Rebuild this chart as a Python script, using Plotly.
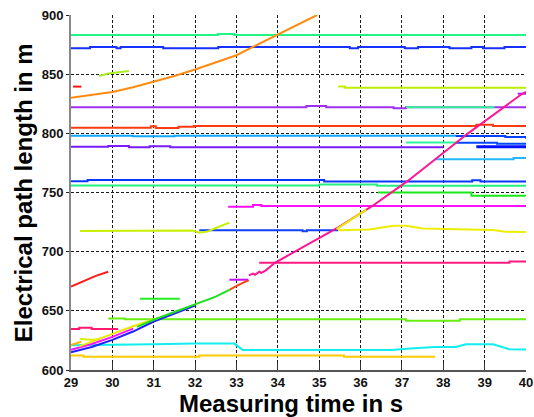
import plotly.graph_objects as go

# ---------------- data ----------------
x_ticks = [29, 30, 31, 32, 33, 34, 35, 36, 37, 38, 39, 40]
y_ticks = [600, 650, 700, 750, 800, 850, 900]

# flat tracks (step shaped)
g883_x = [29, 32.55, 32.95, 40]
g883_y = [883, 884, 883, 883]
b872_x = [29, 29.46, 30.1, 30.2, 31.23, 32.56, 35.74, 35.94, 36.42, 37.07, 37.39, 38.15, 38.68, 38.96, 39.48, 40]
b872_y = [871.8, 873, 871.8, 873, 871.8, 873, 871.8, 873, 873, 871.8, 873, 871.8, 873, 871.8, 873, 873]
yg839_x = [35.46, 35.62, 40]
yg839_y = [839.5, 838.5, 838.5]
p822_x = [29, 34.69, 35.17, 36.8, 37.1, 40]
p822_y = [822, 823, 822, 821.2, 822, 822]
sg822_x = [37.1, 39.24]
sg822_y = [822, 822]
r805_x = [29, 30.93, 31.05, 31.6, 31.97, 38.8, 39.2, 40]
r805_y = [804.8, 806, 804.6, 805.5, 806.2, 807.3, 806.2, 806.2]
lb798_x = [29, 30.5, 31.5, 38.3]
lb798_y = [798, 797.6, 797.9, 797.8]
b797_x = [38.3, 39.5, 40]
b797_y = [797.8, 797, 795.5]
v789_x = [29, 29.9, 30.4, 30.9, 31.4, 38.0]
v789_y = [788.7, 789.2, 788.2, 789, 788.2, 788.2]
sg792_x = [37.1, 38.3]
sg792_y = [792.3, 792.3]
b791_x = [38.3, 39.3, 40]
b791_y = [792, 791.3, 791.3]
b789_x = [38.8, 40]
b789_y = [788.7, 788.7]
lb778_x = [37.8, 39.7, 40]
lb778_y = [778, 779.2, 779.2]
b760_x = [29, 29.4, 35.12, 38.7, 38.9, 40]
b760_y = [759.5, 760.5, 759.3, 760.3, 759.3, 759.3]
sg756_x = [29, 35.0, 36.4, 40]
sg756_y = [756, 756.8, 755.8, 755.8]
g750_x = [36.42, 38.68, 40]
g750_y = [750.1, 747.3, 747.3]
m738_x = [32.8, 33.4, 33.6, 40]
m738_y = [738, 739.5, 738.5, 738.5]
b718_x = [32.1, 34.6, 34.7, 35.46]
b718_y = [718.2, 717.3, 718.2, 718.2]
dp690_x = [33.55, 39.6, 40]
dp690_y = [690.6, 691.7, 691.7]
pu676_x = [32.83, 33.28]
pu676_y = [676.3, 676.3]
g660_x = [30.67, 31.63]
g660_y = [660.2, 660.2]
l643_x = [29.9, 30.3, 37.1, 38.4, 40]
l643_y = [643.5, 642.8, 641.6, 642.8, 642.8]
dp635_x = [29, 29.2, 29.5, 30.14]
dp635_y = [634.6, 635.8, 634.6, 634.6]
gd611_x = [29, 29.3, 32.1, 35.6, 37.8]
gd611_y = [612.3, 611.2, 612.3, 611.2, 611.2]
pu833_x = [39.8, 40]
pu833_y = [833.5, 833.5]
r839_x = [29.05, 29.25]
r839_y = [839.5, 839.5]

# smooth tracks
orange_x = [29, 29.5, 30, 30.5, 31, 31.5, 32, 32.5, 33, 33.4, 34, 34.5, 34.95]
orange_y = [830, 832.2, 835, 839, 843.5, 848.5, 854, 860, 866, 873, 883.5, 892, 900]
yg850_x = [29.68, 29.9, 30.1, 30.4]
yg850_y = [848.5, 850.5, 851.5, 852.7]
yg718_x = [29.22, 30.5, 31.95, 32.1, 32.3, 32.5, 32.83]
yg718_y = [717.4, 717.6, 717.8, 716, 717, 720, 724.5]
y718_x = [35.46, 36.2, 36.8, 37.1, 37.5, 38.5, 39.2, 39.5, 40]
y718_y = [718.2, 718.8, 721.9, 721.9, 719.5, 718.6, 718.3, 716.8, 716.6]
red670_x = [29, 29.2, 29.4, 29.6, 29.9]
red670_y = [670.5, 673.5, 676.5, 679.5, 683]
yg626_x = [29.22, 29.5, 29.7]
yg626_y = [626.2, 625.5, 626]
cyan_x = [29, 30, 31, 32, 32.95, 33.15, 34, 35, 36, 36.75, 37.2, 37.8, 38.3, 38.55, 39.2, 39.6, 40]
cyan_y = [621, 621.2, 621.8, 622.3, 622.3, 617, 616.8, 616.8, 617, 617, 618.2, 619.4, 619.4, 621.7, 621.7, 617.6, 617.4]

# diagonal (moving target) pieces
dg_blue_x = [29, 29.5, 30, 30.5, 31, 31.5, 32]
dg_blue_y = [615, 619.5, 625.5, 632.5, 641, 648, 654.5]
dg_mag_x = [29, 29.5, 30, 30.5]
dg_mag_y = [617, 622, 628, 635]
dg_yel_x = [29.2, 29.6, 30, 30.5, 31.1]
dg_yel_y = [620, 625, 630.5, 637, 644]
dg_gold_x = [29, 29.25]
dg_gold_y = [621, 624]
dg_green_x = [30.6, 31, 31.5, 32, 32.5, 32.84]
dg_green_y = [636.5, 642.5, 649, 655.5, 662, 668]
dg_red_x = [32.84, 33.05, 33.3]
dg_red_y = [668, 672, 676]
dg_pink_x = [33.3, 33.4, 33.45, 33.55, 33.6, 33.7, 33.93, 34.45, 35.0, 35.46, 36.26, 37.15, 38.6, 39.89, 40]
dg_pink_y = [680, 681.5, 680.5, 683, 682, 684, 690.6, 701, 712, 720.5, 738, 760, 800, 833, 835]
dg_yel2_x = [35.42, 36.14]
dg_yel2_y = [719, 735.5]

# ---------------- figure ----------------
fig = go.Figure()


def add(x, y, color, width=2, shape="linear"):
    fig.add_trace(go.Scatter(x=x, y=y, mode="lines",
                             line=dict(color=color, width=width, shape=shape),
                             hoverinfo="skip", showlegend=False))


steps = [
    (g883_x, g883_y, "#22F585"),
    (b872_x, b872_y, "#1530FF"),
    (yg839_x, yg839_y, "#C0EE00"),
    (p822_x, p822_y, "#A030F0"),
    (sg822_x, sg822_y, "#30F598"),
    (r805_x, r805_y, "#FF3A10"),
    (lb798_x, lb798_y, "#10A8FF"),
    (b797_x, b797_y, "#0040FF"),
    (v789_x, v789_y, "#7A1CFF"),
    (sg792_x, sg792_y, "#30F5A0"),
    (b791_x, b791_y, "#0048FF"),
    (lb778_x, lb778_y, "#25B5FF"),
    (b760_x, b760_y, "#0838FF"),
    (sg756_x, sg756_y, "#25F080"),
    (g750_x, g750_y, "#18E818"),
    (m738_x, m738_y, "#FF10FF"),
    (b718_x, b718_y, "#1040FF"),
    (dp690_x, dp690_y, "#FF1A80"),
    (pu676_x, pu676_y, "#C010FF"),
    (g660_x, g660_y, "#20F020"),
    (l643_x, l643_y, "#66EE11"),
    (dp635_x, dp635_y, "#FF1A70"),
    (gd611_x, gd611_y, "#FFCC00"),
    (pu833_x, pu833_y, "#A020FF"),
    (r839_x, r839_y, "#FF1010"),
]
for x, y, c in steps:
    add(x, y, c, shape="hv")

add(b789_x, b789_y, "#0010FF", width=3, shape="hv")

smooth = [
    (yg850_x, yg850_y, "#A8F020"),
    (yg718_x, yg718_y, "#C8F000"),
    (y718_x, y718_y, "#EEEE00"),
    (red670_x, red670_y, "#FF1A1A"),
    (yg626_x, yg626_y, "#D8F000"),
    (cyan_x, cyan_y, "#10EEEE"),
    (orange_x, orange_y, "#FF8A10"),
    (dg_blue_x, dg_blue_y, "#2020FF"),
    (dg_mag_x, dg_mag_y, "#FF10FF"),
    (dg_yel_x, dg_yel_y, "#E8E800"),
    (dg_gold_x, dg_gold_y, "#FFB000"),
    (dg_green_x, dg_green_y, "#20E020"),
    (dg_red_x, dg_red_y, "#FF4010"),
    (dg_pink_x, dg_pink_y, "#FF1493"),
    (dg_yel2_x, dg_yel2_y, "#E8E800"),
]
for x, y, c in smooth:
    add(x, y, c)

tick_font = dict(family="Arial, Liberation Sans, sans-serif", size=13, color="#111", weight="bold")
title_font = dict(family="Arial, Liberation Sans, sans-serif", size=24, color="#000", weight="bold")

fig.update_layout(
    width=534, height=417,
    margin=dict(l=71, r=8, t=15, b=47, autoexpand=False),
    paper_bgcolor="white", plot_bgcolor="white",
    xaxis=dict(range=[29, 40], tickvals=x_ticks, ticktext=[str(v) for v in x_ticks],
               showgrid=True, gridcolor="#1a1a1a", gridwidth=1, griddash="3px,2px",
               showline=True, linecolor="#555", linewidth=1.5,
               ticks="inside", ticklen=7, tickcolor="#333", tickwidth=1,
               tickfont=tick_font, zeroline=False, automargin=False),
    yaxis=dict(range=[600, 900], tickvals=y_ticks, ticktext=[str(v) for v in y_ticks],
               showgrid=True, gridcolor="#1a1a1a", gridwidth=1, griddash="3px,2px",
               showline=True, linecolor="#888", linewidth=2,
               ticks="outside", ticklen=3, tickcolor="#222", tickwidth=1,
               tickfont=tick_font, zeroline=False, automargin=False),
    annotations=[
        dict(text="Measuring time in s", xref="paper", yref="paper", x=0.4846, y=-0.093,
             xanchor="center", yanchor="middle", showarrow=False, font=title_font),
        dict(text="Electrical path length in m", xref="paper", yref="paper", x=-0.104, y=0.5,
             xanchor="center", yanchor="middle", textangle=-90, showarrow=False, font=title_font),
    ],
)

fig.write_html("out.html", config={"displayModeBar": False},
               post_script="document.body.style.margin='0';document.body.style.overflow='hidden';")
